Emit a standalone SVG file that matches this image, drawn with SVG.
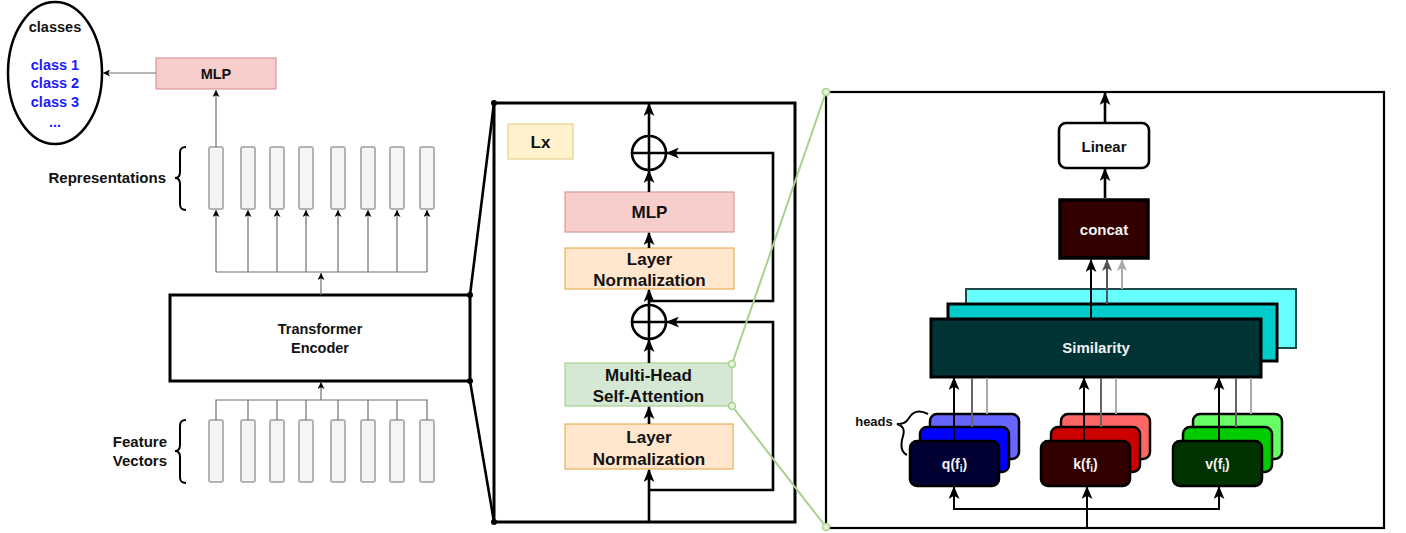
<svg xmlns="http://www.w3.org/2000/svg" width="1406" height="533" viewBox="0 0 1406 533">
<style>
text{font-family:"Liberation Sans",Arial,sans-serif;font-weight:bold;text-anchor:middle;fill:#111}
.bar{fill:#f5f5f5;stroke:#b3b3b3;stroke-width:2}
.thin{fill:none;stroke:#707070;stroke-width:1.2}
.thick{fill:none;stroke:#000;stroke-width:2.6}
.frame{fill:none;stroke:#000;stroke-width:3}
.brace{fill:none;stroke:#000;stroke-width:2}
.wt{fill:#f2f2f2}
.head{stroke:#000;stroke-width:2.5}
.green{fill:none;stroke:#a9d18e;stroke-width:2}
</style>
<defs>
<marker id="sa" viewBox="0 0 8 8" refX="8" refY="4" markerWidth="7" markerHeight="7" markerUnits="userSpaceOnUse" orient="auto"><path d="M0,0 L8,4 L0,8 L2,4 Z" fill="#000"/></marker>
<marker id="ba" viewBox="0 0 12 10" refX="11" refY="5" markerWidth="13" markerHeight="11" markerUnits="userSpaceOnUse" orient="auto"><path d="M0,0 L12,5 L0,10 L3,5 Z" fill="#000"/></marker>
<marker id="ga" viewBox="0 0 12 10" refX="11" refY="5" markerWidth="12" markerHeight="10" markerUnits="userSpaceOnUse" orient="auto"><path d="M0,0 L12,5 L0,10 L3,5 Z" fill="#555"/></marker>
<marker id="la" viewBox="0 0 12 10" refX="11" refY="5" markerWidth="12" markerHeight="10" markerUnits="userSpaceOnUse" orient="auto"><path d="M0,0 L12,5 L0,10 L3,5 Z" fill="#aaa"/></marker>
</defs>

<!-- Left section -->
<g id="classes">
<ellipse cx="55" cy="73" rx="47" ry="71" fill="#fff" stroke="#000" stroke-width="2.5"/>
<text x="55" y="32" font-size="14.5">classes</text>
<text x="55" y="70" font-size="14.5" style="fill:#1a1aff">class 1</text>
<text x="55" y="88" font-size="14.5" style="fill:#1a1aff">class 2</text>
<text x="55" y="107" font-size="14.5" style="fill:#1a1aff">class 3</text>
<text x="55" y="127" font-size="14.5" style="fill:#1a1aff">...</text>
</g>
<g id="mlp-head">
<rect x="156" y="58" width="120" height="31" fill="#f8cecc" stroke="#d99a97" stroke-width="1.2"/>
<text x="216" y="78.5" font-size="14.5">MLP</text>
</g>
<g id="representations">
<rect class="bar" x="209" y="147" width="14" height="62" rx="2"/>
<rect class="bar" x="241" y="147" width="14" height="62" rx="2"/>
<rect class="bar" x="270" y="147" width="14" height="62" rx="2"/>
<rect class="bar" x="299" y="147" width="14" height="62" rx="2"/>
<rect class="bar" x="331" y="147" width="14" height="62" rx="2"/>
<rect class="bar" x="361" y="147" width="14" height="62" rx="2"/>
<rect class="bar" x="390" y="147" width="14" height="62" rx="2"/>
<rect class="bar" x="420" y="147" width="14" height="62" rx="2"/>
<path class="brace" d="M186,147 C181,147 180,149 180,153 L180,172 C180,176 179,178 175,178 C179,178 180,180 180,184 L180,204 C180,208 181,210 186,210"/>
<text x="166" y="183" font-size="15" style="text-anchor:end">Representations</text>
</g>
<g id="feature-vectors">
<rect class="bar" x="209" y="420" width="14" height="62" rx="2"/>
<rect class="bar" x="241" y="420" width="14" height="62" rx="2"/>
<rect class="bar" x="270" y="420" width="14" height="62" rx="2"/>
<rect class="bar" x="299" y="420" width="14" height="62" rx="2"/>
<rect class="bar" x="331" y="420" width="14" height="62" rx="2"/>
<rect class="bar" x="361" y="420" width="14" height="62" rx="2"/>
<rect class="bar" x="390" y="420" width="14" height="62" rx="2"/>
<rect class="bar" x="420" y="420" width="14" height="62" rx="2"/>
<path class="brace" d="M186,420 C181,420 180,422 180,426 L180,445 C180,449 179,451 175,451 C179,451 180,453 180,457 L180,477 C180,481 181,483 186,483"/>
<text x="167" y="447" font-size="15" style="text-anchor:end">Feature</text>
<text x="167" y="466" font-size="15" style="text-anchor:end">Vectors</text>
</g>
<g id="transformer-encoder">
<rect x="170" y="295" width="300" height="86" fill="#fff" stroke="#000" stroke-width="3"/>
<text x="320" y="334" font-size="14.5">Transformer</text>
<text x="320" y="353" font-size="14.5">Encoder</text>
</g>

<!-- Middle block -->
<g id="encoder-block">
<rect x="494" y="103" width="301" height="419" class="frame"/>
</g>
<g id="lx">
<rect x="508" y="124" width="65" height="35" fill="#fff2cc" stroke="#e8d28f" stroke-width="1.2"/>
<text x="540.5" y="147.5" font-size="17">Lx</text>
</g>
<g id="add2">
<circle cx="649" cy="153" r="17" fill="#fff" stroke="#000" stroke-width="2.6"/>
<path d="M632,153 H666 M649,136 V170" stroke="#000" stroke-width="2.6"/>
</g>
<g id="mlp-block">
<rect x="565" y="192" width="169" height="40" fill="#f8cecc" stroke="#d99a97" stroke-width="1.2"/>
<text x="649.5" y="218" font-size="17">MLP</text>
</g>
<g id="layernorm2">
<rect x="565" y="248" width="169" height="41" fill="#ffe6cc" stroke="#e8b05a" stroke-width="1.2"/>
<text x="649.5" y="265" font-size="17">Layer</text>
<text x="649.5" y="286" font-size="17">Normalization</text>
</g>
<g id="add1">
<circle cx="649" cy="322" r="17" fill="#fff" stroke="#000" stroke-width="2.6"/>
<path d="M632,322 H666 M649,305 V339" stroke="#000" stroke-width="2.6"/>
</g>
<g id="mhsa">
<rect x="565" y="363" width="167" height="43" fill="#d5e8d4" stroke="#a9d18e" stroke-width="1.2"/>
<text x="648.5" y="381" font-size="17">Multi-Head</text>
<text x="648.5" y="402" font-size="17">Self-Attention</text>
</g>
<g id="layernorm1">
<rect x="565" y="424" width="168" height="45" fill="#ffe6cc" stroke="#e8b05a" stroke-width="1.2"/>
<text x="649" y="443" font-size="17">Layer</text>
<text x="649" y="465" font-size="17">Normalization</text>
</g>

<!-- Right block -->
<g id="attention-block">
<rect x="826" y="92" width="558" height="436" fill="none" stroke="#000" stroke-width="2.2"/>
</g>
<g id="linear">
<rect x="1059" y="123" width="90" height="45" rx="7" fill="#fff" stroke="#000" stroke-width="2.6"/>
<text x="1104" y="152" font-size="15">Linear</text>
</g>
<g id="concat">
<rect x="1060" y="200" width="88" height="58" fill="#330000" stroke="#000" stroke-width="3.5"/>
<text x="1104" y="235" font-size="15" class="wt">concat</text>
</g>
<g id="similarity">
<rect x="966" y="289" width="330" height="59" fill="#66ffff" stroke="#1f4a4a" stroke-width="2"/>
<rect x="948" y="304" width="329" height="57" fill="#00cccc" stroke="#000" stroke-width="3"/>
<rect x="931" y="319" width="330" height="58" fill="#003333" stroke="#000" stroke-width="3"/>
<text x="1096" y="353" font-size="15" class="wt">Similarity</text>
</g>
<g id="heads-label">
<text x="874" y="426" font-size="13">heads</text>
<path class="brace" d="M928,414 C918,409 912,413 909,418 C906,423 903,424 897,424 C903,426 905,429 903,436 C900,446 901,452 907,455" stroke-width="1.5"/>
</g>
<g id="query">
<rect class="head" x="930" y="414" width="89" height="45" rx="7" fill="#6666ff"/>
<rect class="head" x="920" y="427" width="89" height="45" rx="7" fill="#0000ff"/>
<rect class="head" x="910" y="441" width="89" height="45" rx="7" fill="#000033"/>
<text x="954.5" y="469" font-size="14" class="wt">q(f<tspan font-size="10" dy="3">i</tspan><tspan dy="-3">)</tspan></text>
</g>
<g id="key">
<rect class="head" x="1061" y="414" width="89" height="45" rx="7" fill="#ff6666"/>
<rect class="head" x="1051" y="427" width="89" height="45" rx="7" fill="#cc0000"/>
<rect class="head" x="1041" y="441" width="89" height="45" rx="7" fill="#330000"/>
<text x="1085.5" y="469" font-size="14" class="wt">k(f<tspan font-size="10" dy="3">i</tspan><tspan dy="-3">)</tspan></text>
</g>
<g id="value">
<rect class="head" x="1193" y="414" width="89" height="45" rx="7" fill="#66ff66"/>
<rect class="head" x="1183" y="427" width="89" height="45" rx="7" fill="#00cc00"/>
<rect class="head" x="1173" y="441" width="89" height="45" rx="7" fill="#003300"/>
<text x="1217.5" y="469" font-size="14" class="wt">v(f<tspan font-size="10" dy="3">i</tspan><tspan dy="-3">)</tspan></text>
</g>

<!-- Connectors -->
<g id="connectors">
<path class="thin" d="M156,73 H103" marker-end="url(#sa)"/>
<path class="thin" d="M216,147 V90" marker-end="url(#sa)"/>
<path class="thin" d="M216,272 H427"/>
<path class="thin" d="M216,272 V210" marker-end="url(#sa)"/>
<path class="thin" d="M248,272 V210" marker-end="url(#sa)"/>
<path class="thin" d="M277,272 V210" marker-end="url(#sa)"/>
<path class="thin" d="M306,272 V210" marker-end="url(#sa)"/>
<path class="thin" d="M338,272 V210" marker-end="url(#sa)"/>
<path class="thin" d="M368,272 V210" marker-end="url(#sa)"/>
<path class="thin" d="M397,272 V210" marker-end="url(#sa)"/>
<path class="thin" d="M427,272 V210" marker-end="url(#sa)"/>
<path class="thin" d="M321,295 V273" marker-end="url(#sa)"/>
<path class="thin" d="M321,400 V382" marker-end="url(#sa)"/>
<path class="thin" d="M216,420 V400 H427 V420 M248,400 V420 M277,400 V420 M306,400 V420 M338,400 V420 M368,400 V420 M397,400 V420"/>
<path d="M470,295 L494,103 M470,381 L494,522" stroke="#000" stroke-width="2.6" fill="none"/>
<circle cx="470" cy="295" r="3" fill="#000"/>
<circle cx="470" cy="381" r="3" fill="#000"/>
<circle cx="494" cy="103" r="3" fill="#000"/>
<circle cx="494" cy="522" r="3" fill="#000"/>
<path class="thick" d="M649,522 V470" marker-end="url(#ba)"/>
<path class="thick" d="M649,490 H773 V322 H667" marker-end="url(#ba)"/>
<path class="thick" d="M649,424 V407" marker-end="url(#ba)"/>
<path class="thick" d="M649,363 V340" marker-end="url(#ba)"/>
<path class="thick" d="M649,305 V290" marker-end="url(#ba)"/>
<path class="thick" d="M649,301 H773 V153 H667" marker-end="url(#ba)"/>
<path class="thick" d="M649,248 V233" marker-end="url(#ba)"/>
<path class="thick" d="M649,192 V171" marker-end="url(#ba)"/>
<path class="thick" d="M649,136 V104" marker-end="url(#ba)"/>
<path class="green" d="M732,364 L826,92 M732,406 L826,527"/>
<circle cx="732" cy="364" r="3.5" fill="#e6f2e0" stroke="#a9d18e" stroke-width="1.5"/>
<circle cx="732" cy="406" r="3.5" fill="#e6f2e0" stroke="#a9d18e" stroke-width="1.5"/>
<circle cx="826" cy="92" r="3.5" fill="#e6f2e0" stroke="#a9d18e" stroke-width="1.5"/>
<circle cx="826" cy="527" r="3.5" fill="#e6f2e0" stroke="#a9d18e" stroke-width="1.5"/>
<path class="thick" d="M1105,123 V93" stroke-width="2.2" marker-end="url(#ba)"/>
<path class="thick" d="M1105,198 V169" stroke-width="2.2" marker-end="url(#ba)"/>
<path d="M1091,319 V260" stroke="#000" stroke-width="2" fill="none" marker-end="url(#ba)"/>
<path d="M1107,304 V260" stroke="#555" stroke-width="2" fill="none" marker-end="url(#ga)"/>
<path d="M1122,289 V260" stroke="#aaa" stroke-width="2" fill="none" marker-end="url(#la)"/>
<path d="M954,441 V378" stroke="#000" stroke-width="2" fill="none" marker-end="url(#ba)"/>
<path d="M972,427 V378" stroke="#666" stroke-width="2" fill="none"/>
<path d="M987,414 V378" stroke="#aaa" stroke-width="2" fill="none"/>
<path d="M1084,441 V378" stroke="#000" stroke-width="2" fill="none" marker-end="url(#ba)"/>
<path d="M1101,427 V378" stroke="#666" stroke-width="2" fill="none"/>
<path d="M1116,414 V378" stroke="#aaa" stroke-width="2" fill="none"/>
<path d="M1219,441 V378" stroke="#000" stroke-width="2" fill="none" marker-end="url(#ba)"/>
<path d="M1236,427 V378" stroke="#666" stroke-width="2" fill="none"/>
<path d="M1251,414 V378" stroke="#aaa" stroke-width="2" fill="none"/>
<path d="M1087,528 V487" stroke="#000" stroke-width="2" fill="none" marker-end="url(#ba)"/>
<path d="M954,487 V509 H1219 V487" stroke="#000" stroke-width="2" fill="none"/>
<path d="M954,509 V487" stroke="#000" stroke-width="2" fill="none" marker-end="url(#ba)"/>
<path d="M1219,509 V487" stroke="#000" stroke-width="2" fill="none" marker-end="url(#ba)"/>
</g>
</svg>
